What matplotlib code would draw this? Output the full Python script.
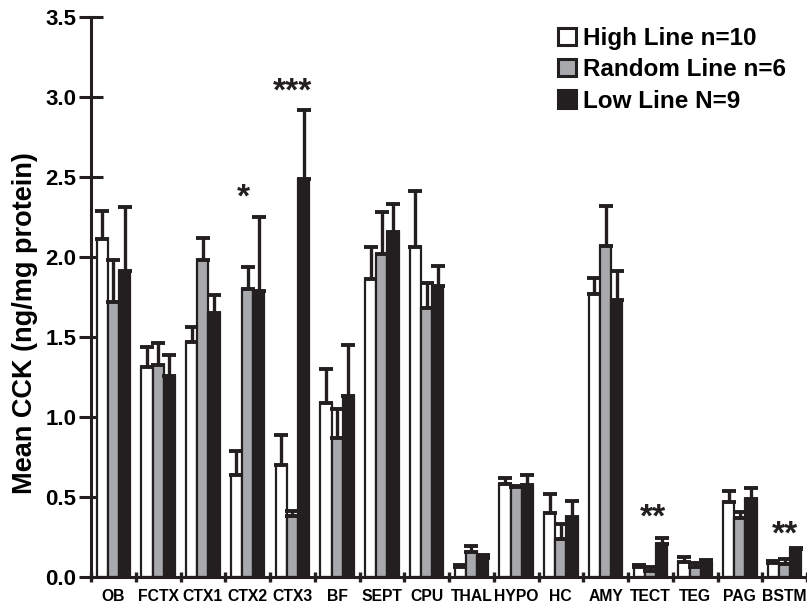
import matplotlib
matplotlib.use("Agg")
import matplotlib.pyplot as plt
from matplotlib.patches import Patch
import numpy as np

plt.rcParams['font.family'] = ['Liberation Sans', 'DejaVu Sans']
plt.rcParams['font.weight'] = 'bold'

regions = ['OB', 'FCTX', 'CTX1', 'CTX2', 'CTX3', 'BF', 'SEPT', 'CPU', 'THAL',
           'HYPO', 'HC', 'AMY', 'TECT', 'TEG', 'PAG', 'BSTM']
high = [2.11, 1.31, 1.47, 0.64, 0.70, 1.09, 1.86, 2.06, 0.06, 0.58, 0.40, 1.77, 0.065, 0.096, 0.47, 0.09]
high_err = [0.18, 0.13, 0.09, 0.15, 0.19, 0.21, 0.20, 0.35, 0.015, 0.04, 0.12, 0.10, 0.01, 0.03, 0.07, 0.01]
random_ = [1.72, 1.325, 1.98, 1.80, 0.38, 0.87, 2.02, 1.68, 0.155, 0.56, 0.24, 2.07, 0.04, 0.06, 0.37, 0.08]
random_err = [0.26, 0.135, 0.14, 0.135, 0.035, 0.18, 0.26, 0.155, 0.04, 0.01, 0.09, 0.25, 0.025, 0.03, 0.035, 0.03]
low = [1.915, 1.255, 1.65, 1.79, 2.49, 1.13, 2.155, 1.82, 0.12, 0.575, 0.375, 1.73, 0.205, 0.09, 0.49, 0.175]
low_err = [0.395, 0.13, 0.11, 0.46, 0.43, 0.32, 0.175, 0.125, 0.02, 0.065, 0.10, 0.18, 0.04, 0.015, 0.065, 0.005]
series_labels = ['High Line n=10', 'Random Line n=6', 'Low Line N=9']
sig_text = ['*', '***', '**', '**']
sig_region = ['CTX2', 'CTX3', 'TECT', 'BSTM']
sig_value = [2.37, 3.03, 0.37, 0.26]

BLACK = '#231f20'
GRAY = '#a7a9ac'
colors = ['white', GRAY, BLACK]

fig = plt.figure(figsize=(8.07, 6.07), dpi=100)
ax = fig.add_axes([91 / 807, 30 / 607, (807 - 91) / 807, (577 - 17) / 607])

n = len(regions)
idx = np.arange(n)
w = 0.25
offsets = [0.25, 0.5, 0.75]
sig_offset = [-0.1, 0.0, 0.05, 0.0]
data = [(high, high_err), (random_, random_err), (low, low_err)]
for k, ((vals, errs), c, off) in enumerate(zip(data, colors, offsets)):
    x = idx + off
    ax.bar(x, vals, width=w, color=c, edgecolor=BLACK, linewidth=1.6, zorder=2 + k)
    ax.errorbar(x, vals, yerr=[np.zeros(n), errs], fmt='none', ecolor=BLACK,
                elinewidth=2.4, capsize=5, capthick=2.8, zorder=2 + k)

# significance markers
for t, r, v, o in zip(sig_text, sig_region, sig_value, sig_offset):
    i = regions.index(r)
    ax.text(i + 0.5 + o, v, t, ha='center', va='center', fontsize=24,
            fontweight='bold', color=BLACK)

ax.set_xlim(0, n)
ax.set_ylim(0, 3.5)
ax.set_xticks(np.arange(n + 1))
ax.set_xticklabels([])
ax.set_xticks(idx + 0.5, minor=True)
ax.set_xticklabels(regions, minor=True, fontsize=11.3, fontweight='bold')
ax.tick_params(axis='x', which='minor', length=0, pad=8.5)
ax.tick_params(axis='x', which='major', direction='inout', length=7, width=2.4, color=BLACK)
yt = np.arange(0, 3.51, 0.5)
ax.set_yticks(yt)
ax.set_yticklabels([f'{v:.1f}' for v in yt], fontsize=16, fontweight='bold')
ax.tick_params(axis='y', direction='inout', length=17, width=2.2, color=BLACK, pad=2)
for s in ['top', 'right']:
    ax.spines[s].set_visible(False)
for s in ['left', 'bottom']:
    ax.spines[s].set_linewidth(2.2)
    ax.spines[s].set_color(BLACK)
    ax.spines[s].set_zorder(10)
ax.set_ylabel('Mean CCK (ng/mg protein)', fontsize=19.5, fontweight='bold')
ax.yaxis.set_label_coords(-(91 - 25) / 716, (577 - 323) / 560)
ax.yaxis.label.set_va('center')

handles = [Patch(facecolor=c, edgecolor=BLACK, linewidth=2.2) for c in colors]
ax.legend(handles, series_labels, loc='upper left', bbox_to_anchor=(558 / 807, 1 - 27 / 607),
          bbox_transform=fig.transFigure, frameon=False,
          prop={'weight': 'bold', 'size': 17.5}, handlelength=0.72, handleheight=0.72,
          handletextpad=0.3, labelspacing=0.34, borderaxespad=0, borderpad=0)

fig.savefig('out.png', dpi=100)
